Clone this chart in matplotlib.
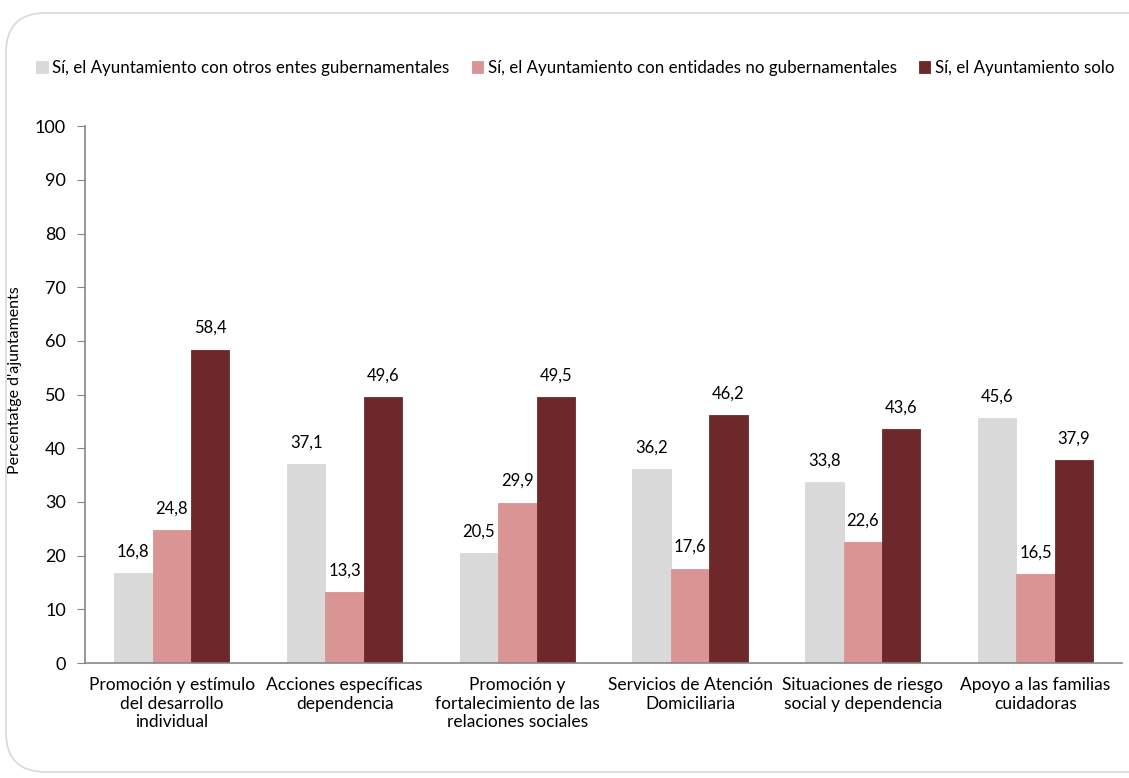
import numpy as np
import matplotlib.pyplot as plt
from matplotlib.patches import FancyBboxPatch

plt.rcParams['font.family'] = ['Lato', 'DejaVu Sans']

categorias = [
    "Promoción y estímulo\ndel desarrollo\nindividual",
    "Acciones específicas\ndependencia",
    "Promoción y\nfortalecimiento de las\nrelaciones sociales",
    "Servicios de Atención\nDomiciliaria",
    "Situaciones de riesgo\nsocial y dependencia",
    "Apoyo a las familias\ncuidadoras",
]
otros_entes = [16.8, 37.1, 20.5, 36.2, 33.8, 45.6]
entidades_no_gub = [24.8, 13.3, 29.9, 17.6, 22.6, 16.5]
ayuntamiento_solo = [58.4, 49.6, 49.5, 46.2, 43.6, 37.9]

series = [
    ("Sí, el Ayuntamiento con otros entes gubernamentales", otros_entes, "#D9D9D9"),
    ("Sí, el Ayuntamiento con entidades no gubernamentales", entidades_no_gub, "#D99594"),
    ("Sí, el Ayuntamiento solo", ayuntamiento_solo, "#6D2829"),
]

fig = plt.figure(figsize=(11.29, 7.78), dpi=100)

# rounded frame around the whole chart
frame = FancyBboxPatch((6 / 1129, 6 / 778), 1.2, 759 / 778,
                       boxstyle="round,pad=0,rounding_size=0.035",
                       transform=fig.transFigure, facecolor="none",
                       edgecolor="#D9D9D9", linewidth=1.2, zorder=0,
                       mutation_aspect=1129 / 778)
fig.patches.append(frame)

ax = fig.add_axes([0.0757, 0.1478, 0.918, 0.690])
ax.patch.set_alpha(0)

x = np.arange(len(categorias))
w = 0.2225
for i, (nombre, vals, color) in enumerate(series):
    pos = x + (i - 1) * w
    bars = ax.bar(pos, vals, width=w, color=color, label=nombre,
                  edgecolor=color, linewidth=0.6)
    for b, v in zip(bars, vals):
        ax.text(b.get_x() + b.get_width() / 2, v + 2.5, f"{v:.1f}".replace(".", ","),
                ha="center", va="bottom", fontsize=12, color="black")

ax.set_xlim(-0.5, len(categorias) - 0.5)
ax.set_ylim(0, 100)
ax.set_yticks(np.arange(0, 101, 10))
ax.tick_params(axis="y", labelsize=13, length=6, color="#868686", pad=8)
ax.set_xticks(x)
ax.set_xticklabels(categorias, fontsize=12.5, linespacing=1.2)
ax.tick_params(axis="x", length=0, pad=10)

for side in ["top", "right"]:
    ax.spines[side].set_visible(False)
for side in ["left", "bottom"]:
    ax.spines[side].set_color("#868686")
    ax.spines[side].set_linewidth(1.2)

ax.set_ylabel("Percentatge d'ajuntaments", fontsize=11.5)
ax.yaxis.set_label_coords(-0.061, 0.527)

fig.legend(loc="center left", bbox_to_anchor=(0.026, 0.913), ncol=3,
           frameon=False, fontsize=12.2, handlelength=0.7, handleheight=0.7,
           handletextpad=0.25, columnspacing=1.3, borderaxespad=0)

fig.savefig("out.png", dpi=100)
